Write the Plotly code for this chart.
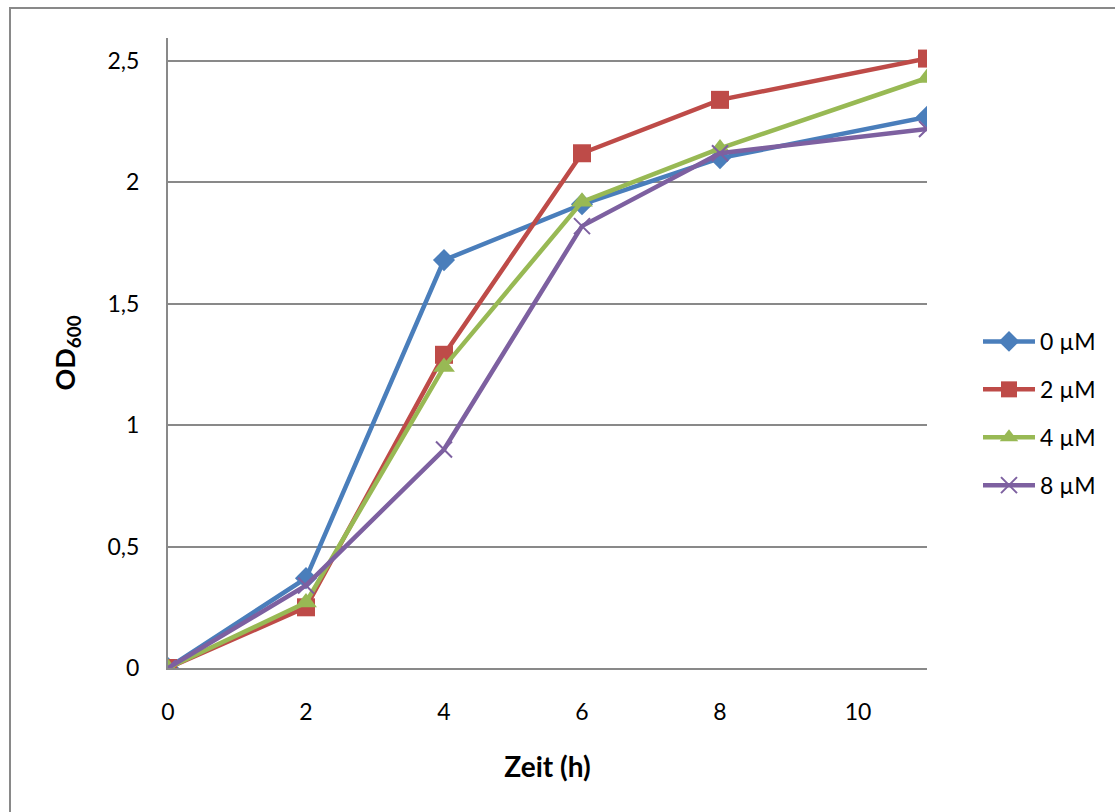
import plotly.graph_objects as go

time_h = [0, 2, 4, 6, 8, 11]
series_names = ["0 µM", "2 µM", "4 µM", "8 µM"]
od_0uM = [0, 0.37, 1.68, 1.91, 2.10, 2.27]
od_2uM = [0, 0.25, 1.29, 2.12, 2.34, 2.51]
od_4uM = [0, 0.27, 1.24, 1.92, 2.14, 2.43]
od_8uM = [0, 0.34, 0.90, 1.82, 2.12, 2.22]
x_ticks = [0, 2, 4, 6, 8, 10]
y_ticks = [0, 0.5, 1, 1.5, 2, 2.5]
y_tick_labels = ["0", "0,5", "1", "1,5", "2", "2,5"]

colors = ["#4A7EBB", "#BE4B48", "#98B954", "#7D60A0"]
symbols = ["diamond", "square", "triangle-up", "x-thin"]
sizes = [17, 18, 19, 16]
values = [od_0uM, od_2uM, od_4uM, od_8uM]

FONT = "Lato"

fig = go.Figure()
for i, (name, vals) in enumerate(zip(series_names, values)):
    marker = dict(symbol=symbols[i], size=sizes[i], color=colors[i])
    if symbols[i] == "x-thin":
        marker["line"] = dict(color=colors[i], width=2)
    fig.add_trace(go.Scatter(
        x=time_h, y=vals, name=name, mode="lines+markers",
        line=dict(color=colors[i], width=4.5),
        marker=marker, legendgroup=name,
    ))

L, R, T, B = 168, 188, 38, 144
W, H = 1115, 812
pw, ph = W - L - R, H - T - B

fig.update_layout(
    width=W, height=H,
    margin=dict(l=L, r=R, t=T, b=B),
    paper_bgcolor="white", plot_bgcolor="white",
    font=dict(family=FONT, size=23, color="black"),
    showlegend=True,
    legend=dict(x=(978 - L) / pw, y=(668 - 320) / ph, xanchor="left", yanchor="top",
                font=dict(family=FONT, size=23, color="black"), tracegroupgap=15, itemwidth=52,
                bgcolor="rgba(0,0,0,0)"),
    xaxis=dict(range=[0, 11], tickvals=x_ticks, showgrid=False, zeroline=False,
               showline=True, linecolor="#898989", linewidth=2, ticks="",
               tickfont=dict(family=FONT, size=23, color="black"), ticklabelstandoff=22,
               title=dict(text="<b>Zeit (h)</b>", font=dict(family=FONT, size=28, color="black"), standoff=34)),
    yaxis=dict(range=[0, (668 - 38) / 242.8], tickvals=y_ticks, ticktext=y_tick_labels,
               showgrid=True, gridcolor="#898989", gridwidth=2, zeroline=False,
               showline=True, linecolor="#898989", linewidth=2, ticks="",
               tickfont=dict(family=FONT, size=23, color="black"), ticklabelstandoff=22,
               title=dict(text="<b>OD<sub>600</sub></b>", font=dict(family=FONT, size=27, color="black"), standoff=24)),
    shapes=[dict(type="rect", xref="paper", yref="paper",
                 x0=(10 - L) / pw, x1=(1130 - L) / pw,
                 y0=(668 - 830) / ph, y1=(668 - 8) / ph,
                 line=dict(color="#898989", width=2), fillcolor="rgba(0,0,0,0)", layer="below")],
)

fig.write_html("out.html")
